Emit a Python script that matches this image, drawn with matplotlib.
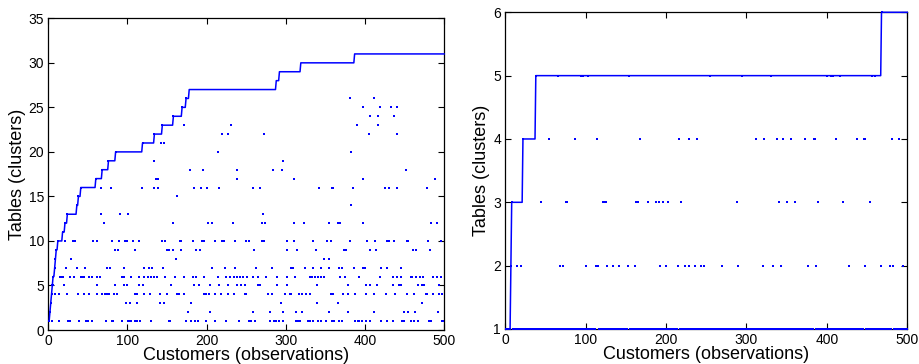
import numpy as np
import matplotlib
matplotlib.use("Agg")
import matplotlib.pyplot as plt

plt.rcParams['font.family'] = ['Liberation Sans', 'DejaVu Sans']

n_customers = 500

# ---------------- left panel: many tables ----------------
# customer index at which each new table (1, 2, 3, ...) is opened
left_new_table = [1, 2, 3, 4, 5, 6, 8, 9, 10, 12, 18, 21, 24, 36, 38, 41, 60, 68,
                  76, 85, 119, 134, 144, 158, 169, 174, 178, 288, 292, 319, 387]

# customers seated at each table (besides the one who opened it)
left_t01 = [1, 5, 13, 25, 28, 39, 48, 50, 55, 73, 80, 82, 93, 101, 103, 105, 109, 112,
            116, 130, 152, 154, 174, 180, 185, 189, 199, 211, 225, 241, 253, 256, 261,
            280, 285, 288, 291, 297, 313, 316, 318, 328, 331, 335, 341, 345, 351, 358,
            361, 367, 371, 388, 391, 393, 396, 401, 406, 420, 428, 436, 447, 449, 458,
            462, 467, 481, 484, 497, 499]
left_t02 = [176, 204, 259, 280, 297, 313, 321, 354, 378, 412, 450, 455, 463, 492]
left_t03 = [98, 103, 112, 141, 146, 180, 294, 340, 366, 472]
left_t04 = [8, 14, 24, 37, 45, 52, 61, 68, 71, 74, 77, 83, 87, 110, 112, 121, 129, 141,
            150, 162, 165, 172, 197, 199, 203, 210, 218, 227, 235, 248, 250, 278, 282,
            299, 305, 307, 317, 320, 326, 331, 357, 360, 372, 378, 388, 401, 412, 427,
            438, 453, 462, 477, 479, 486, 494, 498]
left_t05 = [6, 20, 61, 84, 95, 100, 115, 119, 155, 184, 190, 204, 216, 227, 239, 243,
            248, 265, 267, 289, 302, 339, 379, 401, 406, 415, 436, 443, 446, 467, 472,
            475, 494]
left_t06 = [15, 17, 18, 28, 32, 41, 43, 45, 51, 55, 62, 65, 93, 95, 105, 115, 121, 126,
            130, 133, 137, 148, 160, 171, 183, 187, 197, 214, 225, 230, 234, 238, 242,
            246, 251, 258, 265, 275, 289, 302, 312, 330, 333, 337, 341, 345, 348, 369,
            375, 392, 419, 436, 440, 446, 458, 460, 465, 470, 474, 486, 491, 496]
left_t07 = [22, 36, 46, 74, 78, 96, 121, 127, 131, 145, 207, 223, 236, 262, 283, 307,
            309, 324, 335, 344, 355, 367, 371, 386, 397, 400, 420, 428, 446]
left_t08 = [29, 161, 348, 355]
left_t09 = [84, 88, 109, 150, 152, 157, 168, 187, 191, 260, 302, 314, 338, 373, 376,
            406, 414, 461, 465, 482]
left_t10 = [21, 31, 34, 57, 62, 81, 89, 97, 99, 107, 115, 143, 147, 166, 168, 183, 194,
            197, 211, 220, 222, 236, 250, 253, 270, 273, 302, 310, 334, 352, 357, 381,
            403, 413, 428, 431, 437, 453, 455, 480, 496]
left_t11 = []
left_t12 = [70, 158, 202, 207, 233, 270, 274, 310, 323, 354, 366, 369, 398, 484, 491]
left_t13 = [66, 90, 101, 271]
left_t14 = [383]
left_t15 = [162]
left_t16 = [66, 79, 118, 134, 139, 184, 193, 201, 216, 258, 267, 342, 358, 360, 385,
            425, 430, 441, 479]
left_t17 = [136, 138, 239, 310, 398, 489]
left_t18 = [179, 195, 239, 284, 295, 452]
left_t19 = [133, 296]
left_t20 = [214, 382]
left_t21 = [142, 146]
left_t22 = [220, 227, 272, 405, 441]
left_t23 = [171, 231, 390, 416]
left_t24 = [407, 416, 437]
left_t25 = [397, 419, 433, 440]
left_t26 = [381, 411]

left_rows = [left_t01, left_t02, left_t03, left_t04, left_t05, left_t06, left_t07,
             left_t08, left_t09, left_t10, left_t11, left_t12, left_t13, left_t14,
             left_t15, left_t16, left_t17, left_t18, left_t19, left_t20, left_t21,
             left_t22, left_t23, left_t24, left_t25, left_t26]

# ---------------- right panel: few tables ----------------
right_new_table = [1, 7, 8, 22, 38, 468]

right_t2 = [14, 19, 68, 72, 101, 113, 115, 127, 134, 142, 153, 161, 177, 191, 192, 200,
            202, 215, 223, 228, 236, 244, 247, 269, 289, 321, 333, 343, 376, 387, 427,
            448, 467, 478, 482, 495]
right_t3 = [44, 75, 77, 121, 123, 125, 163, 165, 177, 188, 191, 196, 202, 218, 288, 340,
            351, 360, 389, 420, 454]
right_t4 = [55, 87, 94, 103, 114, 168, 216, 229, 238, 312, 322, 338, 345, 355, 373, 384,
            385, 411, 416, 437, 446, 447, 481, 490]
right_t5 = [65, 94, 97, 103, 154, 255, 295, 331, 400, 405, 408, 416, 456, 460]
right_t6 = []


def table_counts(new_table):
    customers = np.arange(1, n_customers + 1)
    return customers, np.searchsorted(np.asarray(new_table), customers, side='right')


def style_axes(ax):
    ax.tick_params(direction='in', top=True, right=True, length=4, width=0.8,
                   labelsize=10, pad=3, colors='black')
    for sp in ax.spines.values():
        sp.set_linewidth(0.9)
    ax.set_xlabel('Customers (observations)', fontsize=13, labelpad=-1)
    ax.set_ylabel('Tables (clusters)', fontsize=13, labelpad=2)


fig = plt.figure(figsize=(9.19, 3.64), dpi=100)
ax1 = fig.add_axes([0.0526, 0.0934, 0.4306, 0.8563])
ax2 = fig.add_axes([0.5498, 0.0962, 0.4374, 0.8700])

mk = dict(linestyle='none', marker='s', markersize=1.8, markeredgewidth=0,
          color='#0000ff', clip_on=False, zorder=4)

# left panel
cx, cnt = table_counts(left_new_table)
ax1.plot(cx, cnt, color='#0000ff', lw=1.1, zorder=3, clip_on=False)
for k, row in enumerate(left_rows, start=1):
    xs = list(row) + [left_new_table[k - 1]]
    ax1.plot(xs, [k] * len(xs), **mk)
ax1.set_xlim(0, 500)
ax1.set_ylim(0, 35)
ax1.set_xticks(range(0, 501, 100))
ax1.set_yticks(range(0, 36, 5))
style_axes(ax1)

# right panel
cx, cnt = table_counts(right_new_table)
ax2.plot(cx, cnt, color='#0000ff', lw=1.1, zorder=3, clip_on=False)
assigned = np.ones(n_customers + 1, dtype=int)
for k, row in zip([2, 3, 4, 5, 6], [right_t2, right_t3, right_t4, right_t5, right_t6]):
    assigned[list(row) + [right_new_table[k - 1]]] = k
for k in range(1, 7):
    xs = np.nonzero(assigned[1:] == k)[0] + 1
    ax2.plot(xs, [k] * len(xs), **mk)
ax2.set_xlim(0, 500)
ax2.set_ylim(1, 6)
ax2.set_xticks(range(0, 501, 100))
ax2.set_yticks(range(1, 7))
style_axes(ax2)

fig.savefig('out.png', dpi=100)
